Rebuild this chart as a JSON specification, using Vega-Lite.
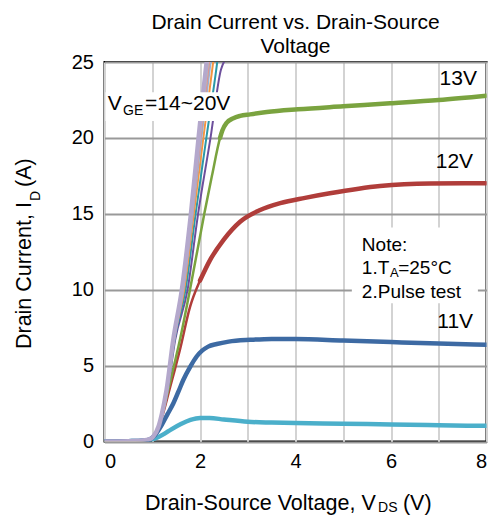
{
  "$schema": "https://vega.github.io/schema/vega-lite/v6.json",
  "width": 382,
  "height": 379.5,
  "autosize": {"type": "none"},
  "padding": {"left": 104.5, "top": 62, "right": 3.5, "bottom": 81.5},
  "background": "white",
  "title": {
    "text": ["Drain Current vs. Drain-Source", "Voltage"],
    "font": "Liberation Sans",
    "fontSize": 21,
    "fontWeight": "normal",
    "color": "black",
    "lineHeight": 24,
    "offset": -5,
    "anchor": "middle",
    "frame": "group"
  },
  "config": {
    "view": {"stroke": "black", "strokeWidth": 2},
    "font": "Liberation Sans",
    "axis": {
      "labelFont": "Liberation Sans",
      "labelFontSize": 20,
      "labelColor": "black",
      "ticks": false,
      "domain": false
    }
  },
  "datasets": {
    "curves": [
      {"v": "10V", "x": 0, "y": 0}, {"v": "10V", "x": 0.5, "y": 0.02}, {"v": "10V", "x": 0.8, "y": 0.05}, {"v": "10V", "x": 0.95, "y": 0.1}, {"v": "10V", "x": 1.1, "y": 0.25}, {"v": "10V", "x": 1.25, "y": 0.5}, {"v": "10V", "x": 1.4, "y": 0.8}, {"v": "10V", "x": 1.6, "y": 1.15}, {"v": "10V", "x": 1.8, "y": 1.42}, {"v": "10V", "x": 2.0, "y": 1.55}, {"v": "10V", "x": 2.2, "y": 1.55}, {"v": "10V", "x": 2.5, "y": 1.45}, {"v": "10V", "x": 3, "y": 1.3}, {"v": "10V", "x": 3.5, "y": 1.25}, {"v": "10V", "x": 4, "y": 1.22}, {"v": "10V", "x": 5, "y": 1.17}, {"v": "10V", "x": 6, "y": 1.12}, {"v": "10V", "x": 7, "y": 1.07}, {"v": "10V", "x": 8, "y": 1.03},
      {"v": "11V", "x": 0, "y": 0}, {"v": "11V", "x": 0.5, "y": 0.02}, {"v": "11V", "x": 0.8, "y": 0.05}, {"v": "11V", "x": 0.95, "y": 0.15}, {"v": "11V", "x": 1.05, "y": 0.4}, {"v": "11V", "x": 1.2, "y": 1.1}, {"v": "11V", "x": 1.32, "y": 1.8}, {"v": "11V", "x": 1.44, "y": 2.5}, {"v": "11V", "x": 1.55, "y": 3.3}, {"v": "11V", "x": 1.65, "y": 4.05}, {"v": "11V", "x": 1.8, "y": 4.95}, {"v": "11V", "x": 1.93, "y": 5.6}, {"v": "11V", "x": 2.05, "y": 6.0}, {"v": "11V", "x": 2.17, "y": 6.25}, {"v": "11V", "x": 2.35, "y": 6.42}, {"v": "11V", "x": 2.6, "y": 6.58}, {"v": "11V", "x": 3.05, "y": 6.7}, {"v": "11V", "x": 3.5, "y": 6.76}, {"v": "11V", "x": 4, "y": 6.75}, {"v": "11V", "x": 5, "y": 6.65}, {"v": "11V", "x": 6, "y": 6.55}, {"v": "11V", "x": 7, "y": 6.45}, {"v": "11V", "x": 8, "y": 6.37},
      {"v": "12V", "x": 0, "y": 0}, {"v": "12V", "x": 0.5, "y": 0.02}, {"v": "12V", "x": 0.8, "y": 0.05}, {"v": "12V", "x": 0.95, "y": 0.15}, {"v": "12V", "x": 1.05, "y": 0.45}, {"v": "12V", "x": 1.15, "y": 1.1}, {"v": "12V", "x": 1.25, "y": 2.1}, {"v": "12V", "x": 1.35, "y": 3.3}, {"v": "12V", "x": 1.47, "y": 4.7}, {"v": "12V", "x": 1.58, "y": 6.05}, {"v": "12V", "x": 1.79, "y": 8.85}, {"v": "12V", "x": 2.0, "y": 10.6}, {"v": "12V", "x": 2.21, "y": 11.95}, {"v": "12V", "x": 2.49, "y": 13.27}, {"v": "12V", "x": 2.84, "y": 14.48}, {"v": "12V", "x": 3.26, "y": 15.25}, {"v": "12V", "x": 3.68, "y": 15.7}, {"v": "12V", "x": 4.2, "y": 16.05}, {"v": "12V", "x": 4.72, "y": 16.35}, {"v": "12V", "x": 5.77, "y": 16.83}, {"v": "12V", "x": 6.82, "y": 17.0}, {"v": "12V", "x": 8, "y": 17.02},
      {"v": "13V", "x": 0, "y": 0}, {"v": "13V", "x": 0.5, "y": 0.02}, {"v": "13V", "x": 0.8, "y": 0.05}, {"v": "13V", "x": 0.95, "y": 0.15}, {"v": "13V", "x": 1.05, "y": 0.45}, {"v": "13V", "x": 1.15, "y": 1.2}, {"v": "13V", "x": 1.25, "y": 2.3}, {"v": "13V", "x": 1.35, "y": 3.6}, {"v": "13V", "x": 1.47, "y": 5.2}, {"v": "13V", "x": 1.58, "y": 6.7}, {"v": "13V", "x": 1.79, "y": 10.0}, {"v": "13V", "x": 2.09, "y": 15.0}, {"v": "13V", "x": 2.25, "y": 17.5}, {"v": "13V", "x": 2.42, "y": 20.0}, {"v": "13V", "x": 2.47, "y": 20.5}, {"v": "13V", "x": 2.56, "y": 21.0}, {"v": "13V", "x": 2.7, "y": 21.3}, {"v": "13V", "x": 2.84, "y": 21.45}, {"v": "13V", "x": 3.05, "y": 21.55}, {"v": "13V", "x": 3.4, "y": 21.7}, {"v": "13V", "x": 4.05, "y": 21.88}, {"v": "13V", "x": 5, "y": 22.08}, {"v": "13V", "x": 5.98, "y": 22.28}, {"v": "13V", "x": 7, "y": 22.5}, {"v": "13V", "x": 8, "y": 22.78},
      {"v": "14V", "x": 0, "y": 0}, {"v": "14V", "x": 0.5, "y": 0.02}, {"v": "14V", "x": 0.8, "y": 0.06}, {"v": "14V", "x": 0.95, "y": 0.15}, {"v": "14V", "x": 1.02, "y": 0.32}, {"v": "14V", "x": 1.13, "y": 0.97}, {"v": "14V", "x": 1.2, "y": 1.8}, {"v": "14V", "x": 1.32, "y": 3.4}, {"v": "14V", "x": 1.48, "y": 6.7}, {"v": "14V", "x": 1.74, "y": 10}, {"v": "14V", "x": 1.96, "y": 15}, {"v": "14V", "x": 2.22, "y": 20}, {"v": "14V", "x": 2.44, "y": 24.5}, {"v": "14V", "x": 2.52, "y": 25.1}, {"v": "14V", "x": 2.65, "y": 25.4},
      {"v": "15V", "x": 0, "y": 0}, {"v": "15V", "x": 0.5, "y": 0.02}, {"v": "15V", "x": 0.8, "y": 0.06}, {"v": "15V", "x": 0.95, "y": 0.15}, {"v": "15V", "x": 1.02, "y": 0.32}, {"v": "15V", "x": 1.13, "y": 0.97}, {"v": "15V", "x": 1.2, "y": 1.8}, {"v": "15V", "x": 1.313, "y": 3.4}, {"v": "15V", "x": 1.466, "y": 6.7}, {"v": "15V", "x": 1.698, "y": 10}, {"v": "15V", "x": 1.908, "y": 15}, {"v": "15V", "x": 2.133, "y": 20}, {"v": "15V", "x": 2.361, "y": 25}, {"v": "15V", "x": 2.42, "y": 26.5},
      {"v": "16V", "x": 0, "y": 0}, {"v": "16V", "x": 0.5, "y": 0.02}, {"v": "16V", "x": 0.8, "y": 0.06}, {"v": "16V", "x": 0.95, "y": 0.15}, {"v": "16V", "x": 1.02, "y": 0.32}, {"v": "16V", "x": 1.13, "y": 0.97}, {"v": "16V", "x": 1.2, "y": 1.8}, {"v": "16V", "x": 1.308, "y": 3.4}, {"v": "16V", "x": 1.456, "y": 6.7}, {"v": "16V", "x": 1.668, "y": 10}, {"v": "16V", "x": 1.87, "y": 15}, {"v": "16V", "x": 2.07, "y": 20}, {"v": "16V", "x": 2.276, "y": 25}, {"v": "16V", "x": 2.336, "y": 26.5},
      {"v": "17V", "x": 0, "y": 0}, {"v": "17V", "x": 0.5, "y": 0.02}, {"v": "17V", "x": 0.8, "y": 0.06}, {"v": "17V", "x": 0.95, "y": 0.15}, {"v": "17V", "x": 1.02, "y": 0.32}, {"v": "17V", "x": 1.13, "y": 0.97}, {"v": "17V", "x": 1.2, "y": 1.8}, {"v": "17V", "x": 1.305, "y": 3.4}, {"v": "17V", "x": 1.45, "y": 6.7}, {"v": "17V", "x": 1.649, "y": 10}, {"v": "17V", "x": 1.846, "y": 15}, {"v": "17V", "x": 2.03, "y": 20}, {"v": "17V", "x": 2.222, "y": 25}, {"v": "17V", "x": 2.282, "y": 26.5},
      {"v": "18V", "x": 0, "y": 0}, {"v": "18V", "x": 0.5, "y": 0.02}, {"v": "18V", "x": 0.8, "y": 0.06}, {"v": "18V", "x": 0.95, "y": 0.15}, {"v": "18V", "x": 1.02, "y": 0.32}, {"v": "18V", "x": 1.13, "y": 0.97}, {"v": "18V", "x": 1.2, "y": 1.8}, {"v": "18V", "x": 1.303, "y": 3.4}, {"v": "18V", "x": 1.446, "y": 6.7}, {"v": "18V", "x": 1.639, "y": 10}, {"v": "18V", "x": 1.834, "y": 15}, {"v": "18V", "x": 2.01, "y": 20}, {"v": "18V", "x": 2.194, "y": 25}, {"v": "18V", "x": 2.254, "y": 26.5},
      {"v": "19V", "x": 0, "y": 0}, {"v": "19V", "x": 0.5, "y": 0.02}, {"v": "19V", "x": 0.8, "y": 0.06}, {"v": "19V", "x": 0.95, "y": 0.15}, {"v": "19V", "x": 1.02, "y": 0.32}, {"v": "19V", "x": 1.13, "y": 0.97}, {"v": "19V", "x": 1.2, "y": 1.8}, {"v": "19V", "x": 1.302, "y": 3.4}, {"v": "19V", "x": 1.443, "y": 6.7}, {"v": "19V", "x": 1.63, "y": 10}, {"v": "19V", "x": 1.822, "y": 15}, {"v": "19V", "x": 1.99, "y": 20}, {"v": "19V", "x": 2.167, "y": 25}, {"v": "19V", "x": 2.227, "y": 26.5},
      {"v": "20V", "x": 0, "y": 0}, {"v": "20V", "x": 0.5, "y": 0.02}, {"v": "20V", "x": 0.8, "y": 0.06}, {"v": "20V", "x": 0.95, "y": 0.15}, {"v": "20V", "x": 1.02, "y": 0.32}, {"v": "20V", "x": 1.13, "y": 0.97}, {"v": "20V", "x": 1.2, "y": 1.8}, {"v": "20V", "x": 1.3, "y": 3.4}, {"v": "20V", "x": 1.44, "y": 6.7}, {"v": "20V", "x": 1.62, "y": 10}, {"v": "20V", "x": 1.81, "y": 15}, {"v": "20V", "x": 1.97, "y": 20}, {"v": "20V", "x": 2.14, "y": 25}, {"v": "20V", "x": 2.2, "y": 26.5}
    ],
    "boxes": [
      {"x": 0.02, "x2": 2.42, "y": 21.12, "y2": 23.0},
      {"x": 5.18, "x2": 7.82, "y": 9.1, "y2": 14.1}
    ],
    "curveLabels": [
      {"x": 7.8, "y": 23.88, "t": "13V"},
      {"x": 7.72, "y": 18.4, "t": "12V"},
      {"x": 7.72, "y": 7.89, "t": "11V"}
    ],
    "bigLeft": [
      {"x": 0.07, "y": 22.23, "t": "V"},
      {"x": 0.85, "y": 22.23, "t": "=14~20V"}
    ],
    "bigSub": [
      {"x": 0.39, "y": 21.8, "t": "GE"}
    ],
    "note": [
      {"x": 5.39, "y": 12.94, "t": "Note:"},
      {"x": 5.39, "y": 11.41, "t": "1.T"},
      {"x": 6.15, "y": 11.41, "t": "=25°C"},
      {"x": 5.39, "y": 9.87, "t": "2.Pulse test"}
    ],
    "noteSub": [
      {"x": 5.98, "y": 11.1, "t": "A"}
    ],
    "xTitle": [
      {"x": 0.85, "y": -4.12, "t": "Drain-Source Voltage, V"},
      {"x": 6.25, "y": -4.12, "t": "(V)"}
    ],
    "xTitleSub": [
      {"x": 5.73, "y": -4.4, "t": "DS"}
    ],
    "yTitle": [
      {"x": -1.66, "y": 6.09, "t": "Drain Current, I"},
      {"x": -1.66, "y": 16.77, "t": "(A)"}
    ],
    "yTitleSub": [
      {"x": -1.43, "y": 15.84, "t": "D"}
    ]
  },
  "encoding": {
    "x": {
      "field": "x",
      "type": "quantitative",
      "scale": {"domain": [0, 8], "nice": false, "zero": false},
      "axis": {
        "title": null,
        "values": [0, 1, 2, 3, 4, 5, 6, 7, 8],
        "labelExpr": "datum.value % 2 === 0 ? datum.label : ''",
        "grid": true,
        "gridColor": "#d3d3d3",
        "gridWidth": 2,
        "labelPadding": 10,
        "labelFlush": true
      }
    },
    "y": {
      "field": "y",
      "type": "quantitative",
      "scale": {"domain": [0, 25], "nice": false, "zero": false},
      "axis": {
        "title": null,
        "values": [0, 5, 10, 15, 20, 25],
        "grid": true,
        "gridColor": "#999999",
        "gridWidth": 2,
        "labelPadding": 11
      }
    }
  },
  "layer": [
    {
      "data": {"name": "curves"},
      "transform": [{"filter": {"field": "v", "oneOf": ["12V", "13V"]}}],
      "mark": {"type": "line", "clip": true, "strokeWidth": 2.5, "interpolate": "monotone"},
      "encoding": {
        "color": {
          "field": "v", "type": "nominal", "legend": null,
          "scale": {
            "domain": ["10V", "11V", "12V", "13V", "14V", "15V", "16V", "17V", "18V", "19V", "20V"],
            "range": ["#4bafca", "#3d6aa3", "#b03d3a", "#7aa33f", "#6d4f9c", "#2c98a8", "#f59540", "#95b3d7", "#d99694", "#c3d69b", "#b4a8cc"]
          }
        }
      }
    },
    {
      "data": {"name": "curves"},
      "transform": [{"filter": "datum.v == '10V' || datum.v == '11V' || (datum.v == '12V' && datum.x >= 2.0) || (datum.v == '13V' && datum.x >= 2.42)"}],
      "mark": {"type": "line", "clip": true, "strokeWidth": 4.5, "interpolate": "monotone", "strokeCap": "round"},
      "encoding": {
        "color": {"field": "v", "type": "nominal", "legend": null}
      }
    },
    {
      "data": {"name": "curves"},
      "transform": [{"filter": {"field": "v", "oneOf": ["14V", "15V", "16V", "17V", "18V", "19V"]}}],
      "mark": {"type": "line", "clip": true, "strokeWidth": 2, "interpolate": "monotone"},
      "encoding": {
        "color": {"field": "v", "type": "nominal", "legend": null}
      }
    },
    {
      "data": {"name": "curves"},
      "transform": [{"filter": {"field": "v", "equal": "20V"}}],
      "mark": {"type": "line", "clip": true, "strokeWidth": 4.5, "interpolate": "monotone"},
      "encoding": {
        "color": {"field": "v", "type": "nominal", "legend": null}
      }
    },
    {
      "data": {"name": "boxes"},
      "mark": {"type": "rect", "fill": "white", "stroke": null},
      "encoding": {"x2": {"field": "x2"}, "y2": {"field": "y2"}}
    },
    {
      "data": {"name": "curveLabels"},
      "mark": {"type": "text", "align": "right", "baseline": "middle", "fontSize": 21, "color": "black"},
      "encoding": {"text": {"field": "t"}}
    },
    {
      "data": {"name": "bigLeft"},
      "mark": {"type": "text", "align": "left", "baseline": "middle", "fontSize": 21, "color": "black"},
      "encoding": {"text": {"field": "t"}}
    },
    {
      "data": {"name": "bigSub"},
      "mark": {"type": "text", "align": "left", "baseline": "middle", "fontSize": 14, "color": "black"},
      "encoding": {"text": {"field": "t"}}
    },
    {
      "data": {"name": "note"},
      "mark": {"type": "text", "align": "left", "baseline": "middle", "fontSize": 19, "color": "black"},
      "encoding": {"text": {"field": "t"}}
    },
    {
      "data": {"name": "noteSub"},
      "mark": {"type": "text", "align": "left", "baseline": "middle", "fontSize": 13, "color": "black"},
      "encoding": {"text": {"field": "t"}}
    },
    {
      "data": {"name": "xTitle"},
      "mark": {"type": "text", "align": "left", "baseline": "middle", "fontSize": 21.5, "color": "black"},
      "encoding": {"text": {"field": "t"}}
    },
    {
      "data": {"name": "xTitleSub"},
      "mark": {"type": "text", "align": "left", "baseline": "middle", "fontSize": 14, "color": "black"},
      "encoding": {"text": {"field": "t"}}
    },
    {
      "data": {"name": "yTitle"},
      "mark": {"type": "text", "align": "left", "baseline": "middle", "angle": 270, "fontSize": 21.5, "color": "black"},
      "encoding": {"text": {"field": "t"}}
    },
    {
      "data": {"name": "yTitleSub"},
      "mark": {"type": "text", "align": "left", "baseline": "middle", "angle": 270, "fontSize": 14, "color": "black"},
      "encoding": {"text": {"field": "t"}}
    }
  ]
}
